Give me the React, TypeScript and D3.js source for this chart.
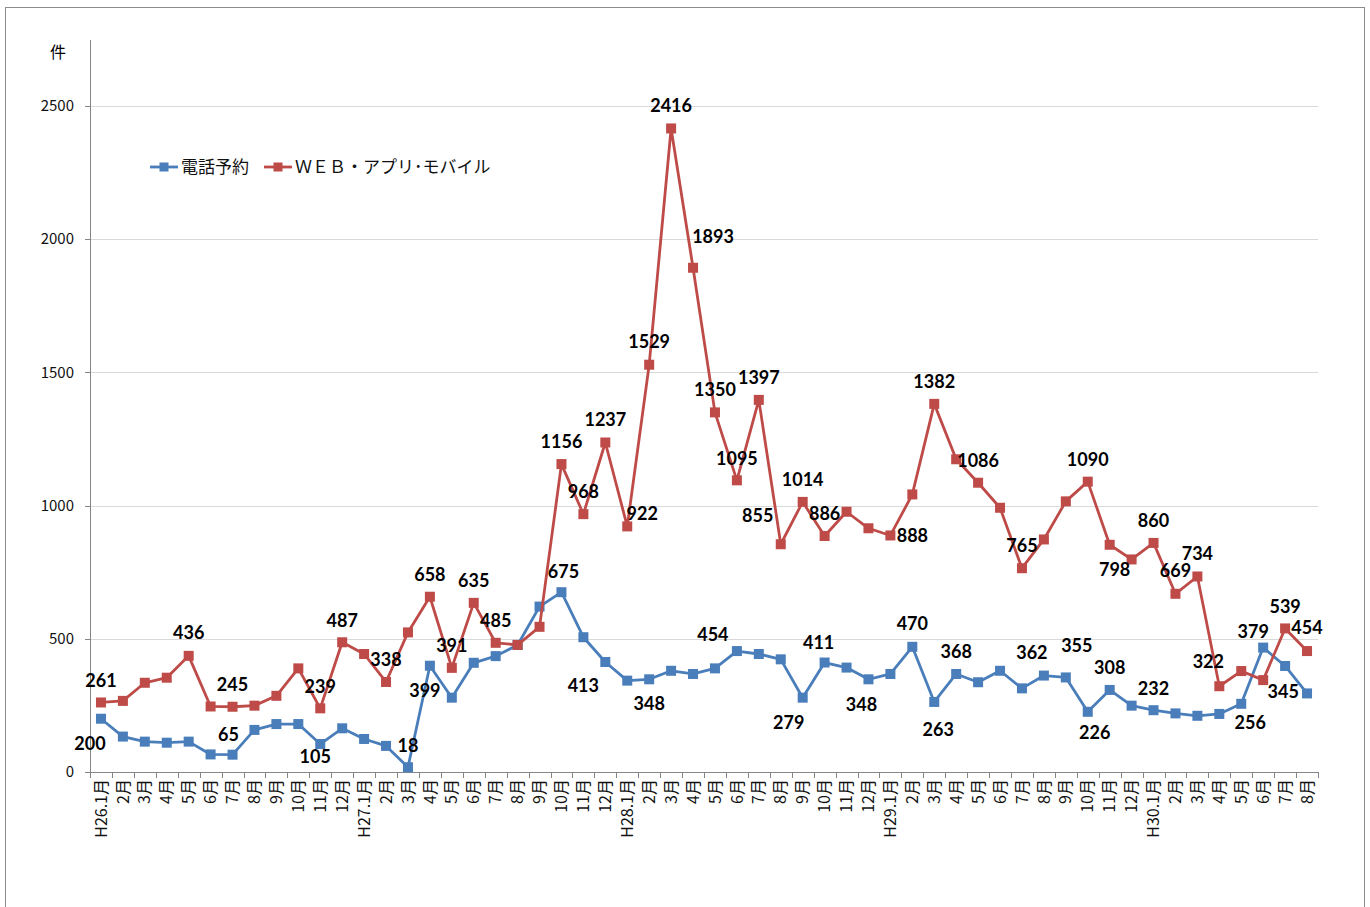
import React, { useRef, useEffect } from 'react';
import * as d3 from 'd3';

// month labels H26.1 .. H30.8
const months = [
  'H26.1月', '2月', '3月', '4月', '5月', '6月', '7月', '8月', '9月', '10月', '11月', '12月',
  'H27.1月', '2月', '3月', '4月', '5月', '6月', '7月', '8月', '9月', '10月', '11月', '12月',
  'H28.1月', '2月', '3月', '4月', '5月', '6月', '7月', '8月', '9月', '10月', '11月', '12月',
  'H29.1月', '2月', '3月', '4月', '5月', '6月', '7月', '8月', '9月', '10月', '11月', '12月',
  'H30.1月', '2月', '3月', '4月', '5月', '6月', '7月', '8月',
];

// 電話予約
const phone = [
  200, 133, 114, 110, 114, 66, 65, 158, 180, 180, 105, 164,
  124, 98, 18, 399, 279, 410, 435, 477, 621, 675, 506, 413,
  343, 348, 380, 368, 389, 454, 443, 423, 279, 411, 392, 348,
  368, 470, 263, 368, 337, 380, 314, 362, 355, 226, 308, 249,
  232, 220, 211, 218, 256, 467, 398, 295,
];

// WEB・アプリ・モバイル
const web = [
  261, 267, 335, 354, 436, 246, 245, 249, 286, 389, 239, 487,
  443, 338, 524, 658, 391, 635, 485, 477, 545, 1156, 968, 1237,
  922, 1529, 2416, 1893, 1350, 1095, 1397, 855, 1014, 886, 977, 915,
  888, 1042, 1382, 1174, 1086, 992, 765, 873, 1016, 1090, 853, 798,
  860, 669, 734, 322, 379, 345, 539, 454,
];

const yTicks = [0, 500, 1000, 1500, 2000, 2500];

// which points carry a value label, with the label's offset from the marker
const phoneLabels = [
  [0, -11, 25], [6, -4, -20], [10, -5, 13], [14, 0, -22], [15, -5, 25],
  [21, 2, -20], [23, -22, 24], [25, 0, 24], [29, -24, -16], [32, -14, 25],
  [33, -6, -20], [35, -7, 25], [37, 0, -23], [38, 4, 28], [39, 0, -22],
  [43, -12, -23], [44, 11, -32], [45, 7, 21], [46, 0, -22], [48, 0, -22],
  [52, 9, 19],
];
const webLabels = [
  [0, 0, -22], [4, 0, -23], [6, 0, -22], [10, 0, -22], [11, 0, -22],
  [13, 0, -22], [15, 0, -22], [16, 0, -22], [17, 0, -22], [18, 0, -22],
  [21, 0, -22], [22, 0, -22], [23, 0, -23], [24, 15, -13], [25, 0, -23],
  [26, 0, -23], [27, 20, -31], [28, 0, -23], [29, 0, -22], [30, 0, -22],
  [31, -23, -29], [32, 0, -22], [33, 0, -22], [36, 22, 0], [38, 0, -22],
  [40, 0, -22], [42, 0, -23], [45, 0, -22], [47, -17, 10], [48, 0, -22],
  [49, 0, -23], [50, 0, -23], [51, -11, -25], [52, 12, -39], [53, 20, 12],
  [54, 0, -22], [55, 0, -23],
];

const W = 1370;
const H = 907;

const App = () => {
  const ref = useRef<SVGSVGElement>(null);

  useEffect(() => {
    const svg = d3.select(ref.current);
    svg.selectAll('*').remove();

    const left = 90, right = 1318, bottom = 772, top = 40;

    const x = d3.scalePoint<number>()
      .domain(d3.range(months.length))
      .range([left, right])
      .padding(0.5);
    const step = x.step();

    const y = d3.scaleLinear()
      .domain([0, 2748])
      .range([bottom, top]);

    // outer frame
    svg.append('rect')
      .attr('x', 5.5).attr('y', 7.5)
      .attr('width', 1359).attr('height', 920)
      .attr('fill', 'white')
      .attr('stroke', '#8c8c8c');

    // grid
    svg.append('g')
      .selectAll('line')
      .data(yTicks.filter(d => d > 0))
      .join('line')
      .attr('x1', left).attr('x2', right)
      .attr('y1', d => Math.round(y(d)) + 0.5).attr('y2', d => Math.round(y(d)) + 0.5)
      .attr('stroke', '#d9d9d9');

    // y axis
    const ya = svg.append('g');
    ya.append('line')
      .attr('x1', left + 0.5).attr('x2', left + 0.5)
      .attr('y1', top).attr('y2', bottom)
      .attr('stroke', '#868686');
    ya.selectAll('line.t')
      .data(yTicks)
      .join('line')
      .attr('class', 't')
      .attr('x1', left - 5).attr('x2', left)
      .attr('y1', d => Math.round(y(d)) + 0.5).attr('y2', d => Math.round(y(d)) + 0.5)
      .attr('stroke', '#868686');
    ya.selectAll('text')
      .data(yTicks)
      .join('text')
      .attr('x', 74)
      .attr('y', d => y(d))
      .attr('dy', '0.35em')
      .attr('text-anchor', 'end')
      .attr('font-family', '"Noto Sans CJK JP", "Liberation Sans", sans-serif')
      .attr('font-size', 15)
      .attr('fill', '#111')
      .text(d => d);

    svg.append('text')
      .attr('x', 58).attr('y', 52)
      .attr('dy', '0.35em')
      .attr('text-anchor', 'middle')
      .attr('font-family', '"Noto Sans CJK JP", sans-serif')
      .attr('font-size', 16)
      .text('件');

    // x axis
    const xa = svg.append('g');
    xa.append('line')
      .attr('x1', left).attr('x2', right)
      .attr('y1', bottom + 0.5).attr('y2', bottom + 0.5)
      .attr('stroke', '#868686');
    xa.selectAll('line.t')
      .data(d3.range(months.length + 1))
      .join('line')
      .attr('class', 't')
      .attr('x1', i => Math.round(left + i * step) + 0.5)
      .attr('x2', i => Math.round(left + i * step) + 0.5)
      .attr('y1', bottom).attr('y2', bottom + 6)
      .attr('stroke', '#868686');
    xa.selectAll('text')
      .data(months)
      .join('text')
      .attr('transform', (_, i) => `translate(${x(i)},${bottom + 7}) rotate(-90)`)
      .attr('dy', '0.35em')
      .attr('text-anchor', 'end')
      .attr('font-family', '"Noto Sans CJK JP", "Liberation Sans", sans-serif')
      .attr('font-size', 16)
      .attr('fill', '#111')
      .text(d => d);

    const series = [
      { values: phone, color: '#4A7EBB', labels: phoneLabels },
      { values: web, color: '#BE4B48', labels: webLabels },
    ];

    const line = d3.line<number>()
      .x((_, i) => x(i) as number)
      .y(d => y(d));

    series.forEach(s => {
      const g = svg.append('g');
      g.append('path')
        .datum(s.values)
        .attr('fill', 'none')
        .attr('stroke', s.color)
        .attr('stroke-width', 2.8)
        .attr('stroke-linejoin', 'round')
        .attr('d', line);
      g.selectAll('rect')
        .data(s.values)
        .join('rect')
        .attr('x', (_, i) => (x(i) as number) - 5)
        .attr('y', d => y(d) - 5)
        .attr('width', 10).attr('height', 10)
        .attr('fill', s.color);
    });

    series.forEach(s => {
      svg.append('g')
        .selectAll('text')
        .data(s.labels)
        .join('text')
        .attr('x', ([i, dx]) => (x(i) as number) + dx)
        .attr('y', ([i, , dy]) => y(s.values[i]) + dy)
        .attr('dy', '0.35em')
        .attr('text-anchor', 'middle')
        .attr('font-family', 'Lato, "Open Sans", sans-serif')
        .attr('font-weight', 'bold')
        .attr('font-size', 18)
        .attr('fill', '#000')
        .text(([i]) => s.values[i]);
    });

    // legend
    const legend = [
      { name: '電話予約', color: '#4A7EBB', x0: 150 },
      { name: 'ＷＥＢ・アプリ･モバイル', color: '#BE4B48', x0: 264 },
    ];
    const lg = svg.append('g');
    legend.forEach(l => {
      lg.append('line')
        .attr('x1', l.x0).attr('x2', l.x0 + 28)
        .attr('y1', 167).attr('y2', 167)
        .attr('stroke', l.color).attr('stroke-width', 2.8);
      lg.append('rect')
        .attr('x', l.x0 + 9.5).attr('y', 162.5)
        .attr('width', 9).attr('height', 9)
        .attr('fill', l.color);
      lg.append('text')
        .attr('x', l.x0 + 31).attr('y', 167)
        .attr('dy', '0.35em')
        .attr('font-family', '"Noto Sans CJK JP", sans-serif')
        .attr('font-size', 17)
        .attr('fill', '#111')
        .text(l.name);
    });
  }, []);

  return (
    <svg
      ref={ref}
      width={W}
      height={H}
      style={{ position: 'absolute', left: 0, top: 0, display: 'block', background: 'white' }}
    />
  );
};

export default App;
